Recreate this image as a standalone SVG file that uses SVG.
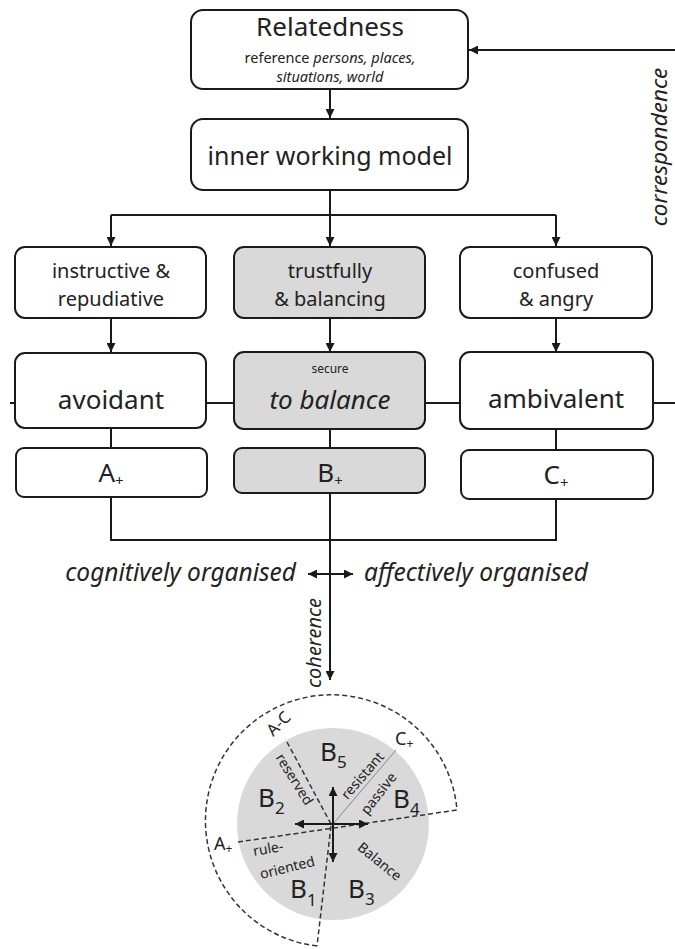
<svg xmlns="http://www.w3.org/2000/svg" width="675" height="949" viewBox="0 0 675 949">
<defs>
<marker id="ah" viewBox="0 0 10 10" refX="10" refY="5" markerWidth="4.5" markerHeight="4.5" orient="auto-start-reverse"><path d="M0 0 L10 5 L0 10 Z" fill="#1a1a1a"/></marker>
<style>
text{font-family:"Noto Sans","Open Sans",sans-serif;fill:#222}
.box{fill:#fff;stroke:#1a1a1a;stroke-width:2}
.gbox{fill:#d9d9d9;stroke:#1a1a1a;stroke-width:2}
.ln{fill:none;stroke:#1a1a1a;stroke-width:2}
.arr{fill:none;stroke:#1a1a1a;stroke-width:2;marker-end:url(#ah)}
.dbl{fill:none;stroke:#1a1a1a;stroke-width:2;marker-end:url(#ah);marker-start:url(#ah)}
.dash{fill:none;stroke:#333;stroke-width:1.5;stroke-dasharray:5 3}
.it{font-style:italic}
.c{text-anchor:middle}
.big{font-size:26px}
.mid{font-size:20px}
.sm{font-size:14px}
</style>
</defs>

<g id="connectors">
<path class="arr" d="M330 89 V118"/>
<path class="arr" d="M330 190 V246"/>
<path class="ln" d="M111 215 H556"/>
<path class="arr" d="M111 215 V246"/>
<path class="arr" d="M556 215 V246"/>
<path class="arr" d="M111 318 V352"/>
<path class="arr" d="M330 318 V352"/>
<path class="arr" d="M556 318 V352"/>
<path class="ln" d="M10 403 H15"/>
<path class="ln" d="M206 403 H234"/>
<path class="ln" d="M425 403 H460"/>
<path class="ln" d="M653 403 H675"/>
<path class="ln" d="M111 428 V448"/>
<path class="ln" d="M330 429 V448"/>
<path class="ln" d="M556 429 V450"/>
<path class="ln" d="M111 497 V540 H556 V499"/>
<path class="arr" d="M330 493 V680"/>
<path class="dbl" d="M308 574 H353"/>
<path class="arr" d="M675 50 H469"/>
</g>

<g id="relatedness">
<rect class="box" x="191" y="10" width="277" height="79" rx="12"/>
<text class="c big" x="330" y="36">Relatedness</text>
<text class="c" x="330" y="63" font-size="14.5">reference <tspan class="it">persons, places,</tspan></text>
<text class="c it" x="330" y="82" font-size="14.5">situations, world</text>
</g>

<g id="inner-working-model">
<rect class="box" x="191" y="119" width="277" height="71" rx="12"/>
<text class="c" x="330" y="165" font-size="25">inner working model</text>
</g>

<g id="instructive">
<rect class="box" x="15" y="247" width="191" height="71" rx="10"/>
<text class="c mid" x="111" y="278">instructive &amp;</text>
<text class="c mid" x="111" y="306">repudiative</text>
</g>

<g id="trustfully">
<rect class="gbox" x="234" y="247" width="191" height="71" rx="10"/>
<text class="c mid" x="330" y="278">trustfully</text>
<text class="c mid" x="330" y="306">&amp; balancing</text>
</g>

<g id="confused">
<rect class="box" x="460" y="247" width="192" height="71" rx="10"/>
<text class="c mid" x="556" y="278">confused</text>
<text class="c mid" x="556" y="306">&amp; angry</text>
</g>

<g id="avoidant">
<rect class="box" x="15" y="353" width="191" height="75" rx="10"/>
<text class="c big" x="111" y="409">avoidant</text>
</g>

<g id="secure">
<rect class="gbox" x="234" y="352" width="191" height="77" rx="10"/>
<text class="c" x="330" y="373" font-size="12">secure</text>
<text class="c big it" x="330" y="409">to balance</text>
</g>

<g id="ambivalent">
<rect class="box" x="460" y="352" width="193" height="77" rx="10"/>
<text class="c big" x="556" y="408">ambivalent</text>
</g>

<g id="A-plus">
<rect class="box" x="16" y="448" width="191" height="49" rx="8"/>
<text class="c big" x="111" y="482">A<tspan font-size="15" dy="4">+</tspan></text>
</g>

<g id="B-plus">
<rect class="gbox" x="234" y="448" width="191" height="45" rx="8"/>
<text class="c big" x="330" y="482">B<tspan font-size="15" dy="4">+</tspan></text>
</g>

<g id="C-plus">
<rect class="box" x="461" y="450" width="192" height="49" rx="8"/>
<text class="c big" x="556" y="484">C<tspan font-size="15" dy="4">+</tspan></text>
</g>

<g id="labels">
<text class="it" x="296" y="581" font-size="24.5" text-anchor="end">cognitively organised</text>
<text class="it" x="364" y="581" font-size="24.5">affectively organised</text>
<text class="it c" transform="translate(321 643) rotate(-90)" font-size="20">coherence</text>
<text class="it c" transform="translate(667 147) rotate(-90)" font-size="22.5">correspondence</text>
</g>

<g id="balance-circle">
<circle cx="333" cy="824" r="96" fill="#d9d9d9"/>
<path class="dash" d="M317 946 A126 126 0 1 1 457 810"/>
<path class="dash" d="M238 842 L457 810"/>
<path class="dash" d="M287 742 L331 824"/>
<path class="dash" d="M331 826 L317 946"/>
<path d="M333 824 L396 750" stroke="#888" stroke-width="1" fill="none"/>
<path class="dbl" d="M333 862 V787"/>
<path class="dbl" d="M295 824 H368"/>
<text x="320" y="761" font-size="26">B<tspan font-size="17" dy="7">5</tspan></text>
<text x="258" y="807" font-size="26">B<tspan font-size="17" dy="7">2</tspan></text>
<text x="393" y="808" font-size="26">B<tspan font-size="17" dy="7">4</tspan></text>
<text x="290" y="898" font-size="26">B<tspan font-size="17" dy="8">1</tspan></text>
<text x="348" y="898" font-size="26">B<tspan font-size="17" dy="7">3</tspan></text>
<text x="214" y="850" font-size="18">A<tspan font-size="12" dy="3">+</tspan></text>
<text x="395" y="745" font-size="18">C<tspan font-size="12" dy="3">+</tspan></text>
<text class="c" dominant-baseline="central" transform="translate(278 723) rotate(-45)" font-size="16.5">A-C</text>
<text class="c sm" dominant-baseline="central" transform="translate(295 779) rotate(58)">reserved</text>
<text class="c sm" dominant-baseline="central" transform="translate(362 775) rotate(-49)">resistant</text>
<text class="c sm" dominant-baseline="central" transform="translate(378 793) rotate(-52)">passive</text>
<text class="c sm" dominant-baseline="central" transform="translate(380 861) rotate(39)">Balance</text>
<text class="c sm" dominant-baseline="central" transform="translate(268 848) rotate(-10)">rule-</text>
<text class="c sm" dominant-baseline="central" transform="translate(287 867) rotate(-14)">oriented</text>
</g>
</svg>
